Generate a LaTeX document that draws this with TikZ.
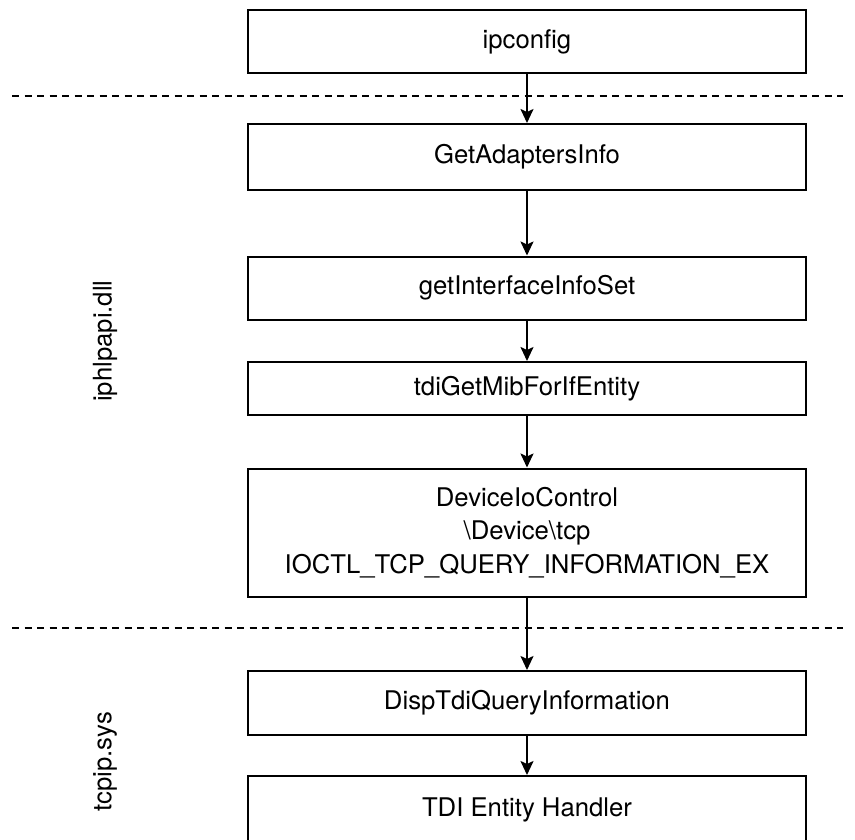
\documentclass[tikz,border=0pt]{standalone}
\usepackage{fontspec}
\setmainfont{TeX Gyre Heros}
\usetikzlibrary{arrows.meta}

\tikzset{
  callbox/.style={draw, line width=2pt, minimum width=558pt, align=center, inner sep=0pt, font=\fontsize{25.7}{33.5}\selectfont},
  layer/.style={rotate=90, inner sep=0pt, font=\fontsize{25.7}{33.5}\selectfont},
  callarrow/.style={line width=2pt, -{Stealth[length=14pt, width=13pt, inset=3pt]}},
  border/.style={line width=1.6pt, dash pattern={on 7pt off 5.5pt}}
}

\begin{document}
\begin{tikzpicture}[x=1pt,y=1pt,yscale=-1,xscale=1]
\useasboundingbox (0,0) rectangle (855,839);

%Straight Lines: layer borders
\draw [border] (12,96) -- (843,96) ;
\draw [border] (12,628) -- (843,628) ;

% Text Node
\node [callbox, minimum height=63pt] (ipconfig) at (527,41.5) {ipconfig};
% Text Node
\node [callbox, minimum height=66pt] (getadapters) at (527,157) {GetAdaptersInfo};
% Text Node
\node [callbox, minimum height=63pt] (getiface) at (527,288) {getInterfaceInfoSet};
% Text Node
\node [callbox, minimum height=53pt] (getmib) at (527,388.5) {tdiGetMibForIfEntity};
% Text Node
\node [callbox, minimum height=128pt] (ioctl) at (527,532.5) {DeviceIoControl\\\textbackslash Device\textbackslash tcp\\IOCTL\_TCP\_QUERY\_INFORMATION\_EX};
% Text Node
\node [callbox, minimum height=64pt] (dispquery) at (527,703) {DispTdiQueryInformation};
% Text Node: box runs past the bottom edge
\node [callbox, minimum height=68pt] (entity) at (527,810) {TDI Entity Handler};

% Text Node
\node [layer] (iphlpapi) at (105,341) {iphlpapi.dll};
% Text Node
\node [layer] (tcpip) at (105,762) {tcpip.sys};

%Straight Lines
\draw [callarrow] (ipconfig) -- (getadapters) ;
\draw [callarrow] (getadapters) -- (getiface) ;
\draw [callarrow] (getiface) -- (getmib) ;
\draw [callarrow] (getmib) -- (ioctl) ;
\draw [callarrow] (ioctl) -- (dispquery) ;
\draw [callarrow] (dispquery) -- (entity) ;

\end{tikzpicture}
\end{document}
